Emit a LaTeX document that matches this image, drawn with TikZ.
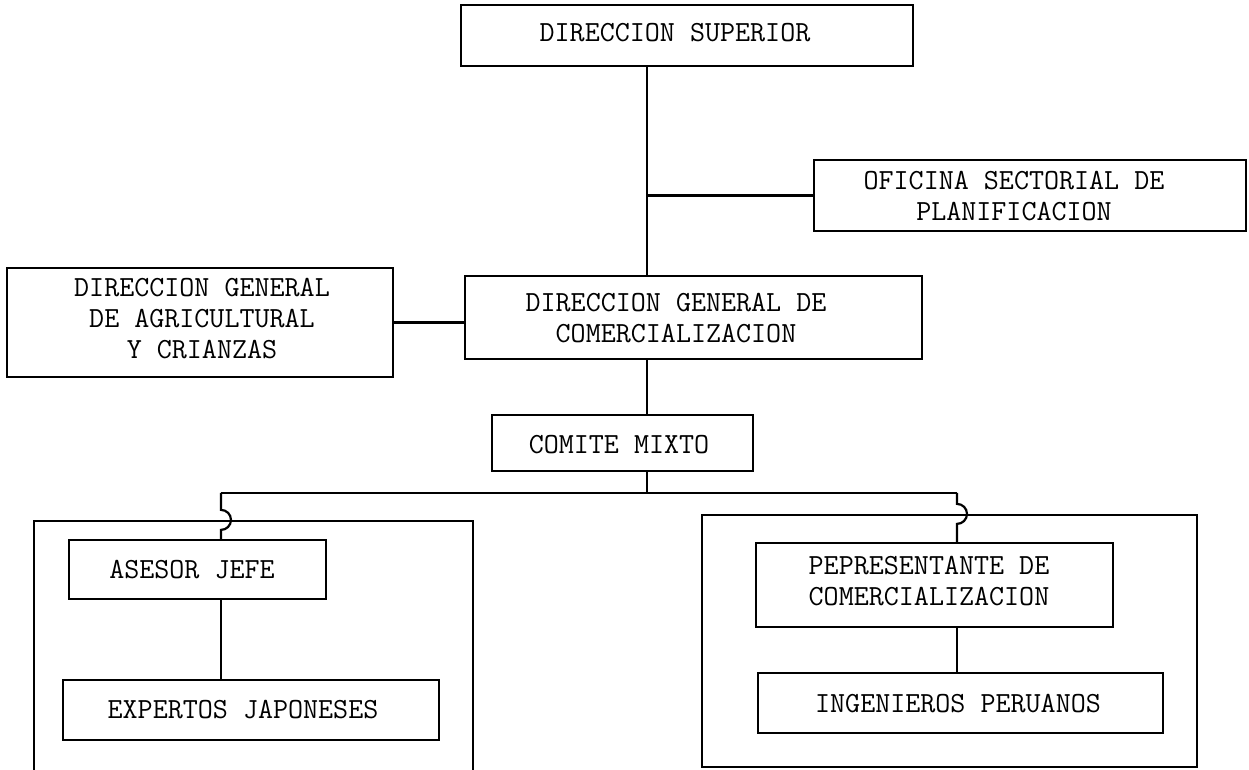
\documentclass[tikz,border=0pt]{standalone}
\usepackage{fontspec}
\begin{document}
\begin{tikzpicture}[x=0.5pt,y=-0.5pt,
  box/.style={draw, line width=1.1pt, inner sep=0pt},
  lbl/.style={font=\fontsize{14.6}{15.5}\selectfont\ttfamily, align=center, inner sep=0pt},
  link/.style={line width=1.1pt}]
\useasboundingbox (0,0) rectangle (1249,770);

% group frames
\node[box, minimum width=219.5pt, minimum height=127pt] (grpL) at (253.5,648) {};
\node[box, minimum width=247.5pt, minimum height=126pt] (grpR) at (949.5,641) {};

% boxes
\node[box, minimum width=226pt, minimum height=30.5pt] (sup) at (687,35.5) {};
\node[box, minimum width=216pt, minimum height=35.5pt] (ofi) at (1030,195.5) {};
\node[box, minimum width=193pt, minimum height=54.5pt] (agr) at (200,322.5) {};
\node[box, minimum width=228.5pt, minimum height=41.5pt] (dgc) at (693.5,317.5) {};
\node[box, minimum width=130.5pt, minimum height=28pt] (com) at (622.5,443) {};
\node[box, minimum width=128.5pt, minimum height=29.5pt] (ase) at (197.5,569.5) {};
\node[box, minimum width=188pt, minimum height=30pt] (exp) at (251,710) {};
\node[box, minimum width=178.5pt, minimum height=42pt] (pep) at (934.5,585) {};
\node[box, minimum width=202.5pt, minimum height=30pt] (ing) at (960.5,703) {};

% labels
\node[lbl] (supT) at (675,33) {DIRECCION SUPERIOR};
\node[lbl] (ofiT) at (1014,196.5) {OFICINA SECTORIAL DE\\PLANIFICACION};
\node[lbl] (agrT) at (202,319) {DIRECCION GENERAL\\DE AGRICULTURAL\\Y CRIANZAS};
\node[lbl] (dgcT) at (676,318.5) {DIRECCION GENERAL DE\\COMERCIALIZACION};
\node[lbl] (comT) at (619,445) {COMITE MIXTO};
\node[lbl] (aseT) at (192,570) {ASESOR JEFE};
\node[lbl] (expT) at (243,710) {EXPERTOS JAPONESES};
\node[lbl] (pepT) at (929,581.5) {PEPRESENTANTE DE\\COMERCIALIZACION};
\node[lbl] (ingT) at (958,704) {INGENIEROS PERUANOS};

% connector columns
\coordinate (sx) at (647,0);
\coordinate (dl) at (221,0);
\coordinate (dr) at (957,0);
\coordinate (bus) at (647,493);

% main spine
\draw[link] (sx |- sup.south) -- (sx |- dgc.north);
\draw[link] (sx |- ofi.west) -- (ofi.west);
\draw[link] (agr.east) -- (dgc.west |- agr.east);
\draw[link] (sx |- dgc.south) -- (sx |- com.north);
\draw[link] (sx |- com.south) -- (bus);
\draw[link] (bus -| dl) -- (bus -| dr);

% drops into the groups, jumping over the frame tops
\draw[link] (bus -| dl) -- ([yshift=5pt]dl |- grpL.north)
  arc[start angle=-90, end angle=90, radius=10] -- (dl |- ase.north);
\draw[link] (bus -| dr) -- ([yshift=5pt]dr |- grpR.north)
  arc[start angle=-90, end angle=90, radius=10] -- (dr |- pep.north);

% links inside the groups
\draw[link] (dl |- ase.south) -- (dl |- exp.north);
\draw[link] (dr |- pep.south) -- (dr |- ing.north);
\end{tikzpicture}
\end{document}
